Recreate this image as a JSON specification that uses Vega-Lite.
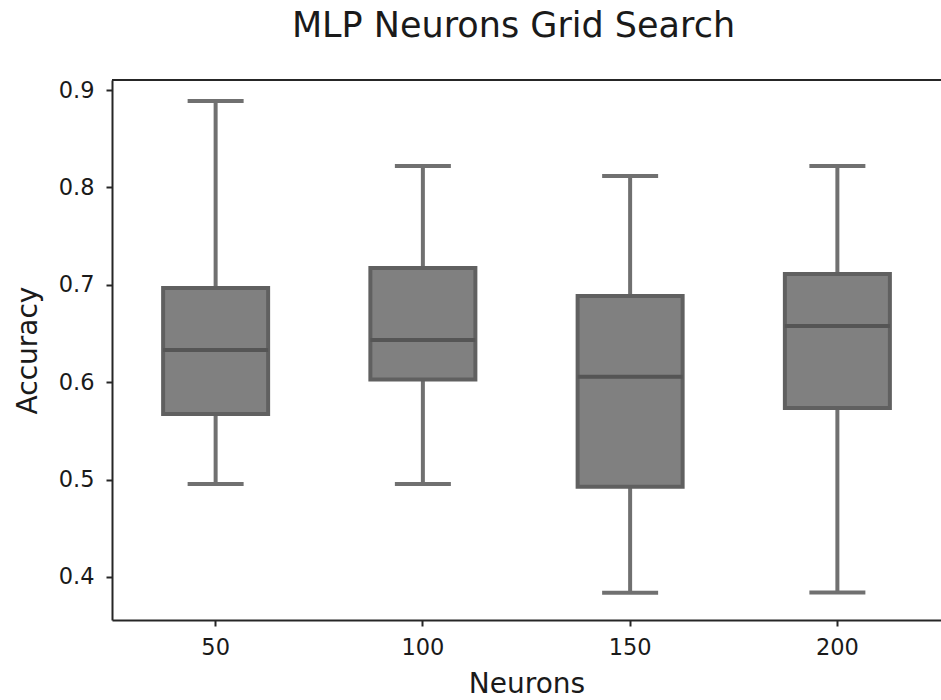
{
  "$schema": "https://vega.github.io/schema/vega-lite/v6.json",
  "autosize": "none",
  "padding": {"left": 112, "top": 80, "right": 0, "bottom": 80},
  "width": 829,
  "height": 540,
  "background": "white",
  "title": {"text": "MLP Neurons Grid Search", "font": "DejaVu Sans", "fontSize": 35, "fontWeight": "normal", "color": "#1a1a1a", "anchor": "middle", "offset": 35, "dx": -13},
  "config": {
    "view": {"stroke": null},
    "axis": {"labelFont": "DejaVu Sans", "titleFont": "DejaVu Sans", "labelColor": "#1a1a1a", "titleColor": "#1a1a1a", "domainColor": "#262626", "tickColor": "#262626", "domainWidth": 2, "tickWidth": 2, "tickSize": 6, "grid": false, "titleFontWeight": "normal"}
  },
  "data": {"values": [
    {"neurons": "50", "lower": 0.4955, "q1": 0.5674, "median": 0.633, "q3": 0.6967, "upper": 0.8887},
    {"neurons": "100", "lower": 0.4955, "q1": 0.6027, "median": 0.6433, "q3": 0.7172, "upper": 0.822},
    {"neurons": "150", "lower": 0.3839, "q1": 0.4927, "median": 0.6057, "q3": 0.6885, "upper": 0.8117},
    {"neurons": "200", "lower": 0.384, "q1": 0.5735, "median": 0.6576, "q3": 0.711, "upper": 0.822}
  ]},
  "layer": [
    {"mark": {"type": "rule", "color": "#707070", "strokeWidth": 4},
     "encoding": {
      "x": {"field": "neurons", "type": "ordinal", "sort": ["50", "100", "150", "200"], "title": "Neurons",
        "scale": {"paddingInner": 0, "paddingOuter": 0},
        "axis": {"labelAngle": 0, "labelFontSize": 22.5, "titleFontSize": 28, "labelPadding": 10, "titlePadding": 12}},
      "y": {"field": "lower", "type": "quantitative", "title": "Accuracy",
        "scale": {"domain": [0.3558, 0.9103], "nice": false, "zero": false},
        "axis": {"values": [0.4, 0.5, 0.6, 0.7, 0.8, 0.9], "format": ".1f", "labelFontSize": 22.5, "titleFontSize": 28, "labelPadding": 12, "titlePadding": 16}},
      "y2": {"field": "q1"}}},
    {"mark": {"type": "rule", "color": "#707070", "strokeWidth": 4},
     "encoding": {"x": {"field": "neurons", "type": "ordinal", "sort": ["50", "100", "150", "200"]}, "y": {"field": "q3", "type": "quantitative"}, "y2": {"field": "upper"}}},
    {"mark": {"type": "tick", "color": "#707070", "size": 56, "thickness": 4, "opacity": 1},
     "encoding": {"x": {"field": "neurons", "type": "ordinal", "sort": ["50", "100", "150", "200"]}, "y": {"field": "upper", "type": "quantitative"}}},
    {"mark": {"type": "tick", "color": "#707070", "size": 56, "thickness": 4, "opacity": 1},
     "encoding": {"x": {"field": "neurons", "type": "ordinal", "sort": ["50", "100", "150", "200"]}, "y": {"field": "lower", "type": "quantitative"}}},
    {"mark": {"type": "bar", "fill": "#808080", "stroke": "#606060", "strokeWidth": 4, "size": 105, "opacity": 1},
     "encoding": {"x": {"field": "neurons", "type": "ordinal", "sort": ["50", "100", "150", "200"]}, "y": {"field": "q1", "type": "quantitative"}, "y2": {"field": "q3"}}},
    {"mark": {"type": "tick", "color": "#555555", "size": 105, "thickness": 4, "opacity": 1},
     "encoding": {"x": {"field": "neurons", "type": "ordinal", "sort": ["50", "100", "150", "200"]}, "y": {"field": "median", "type": "quantitative"}}},
    {"mark": {"type": "rule", "color": "#262626", "strokeWidth": 2},
     "encoding": {"y": {"datum": 0.9103}}}
  ]
}
